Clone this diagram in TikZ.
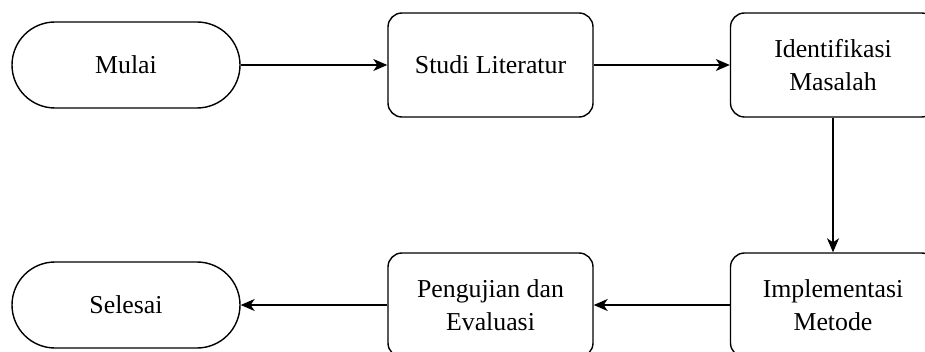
\documentclass[tikz,border=0pt]{standalone}
\usepackage{fontspec}
\setmainfont{Liberation Serif}
\usetikzlibrary{positioning,arrows.meta}

\begin{document}
\begin{tikzpicture}[
  x=1pt, y=1pt,
  box/.style={rectangle, draw, line width=1.4pt, rounded corners=14pt,
    minimum width=205pt, minimum height=104pt, align=center,
    font=\fontsize{25.8}{33}\selectfont},
  term/.style={box, rounded corners=43pt, minimum width=228pt, minimum height=86pt},
  flow/.style={-{Stealth[length=14pt, width=12pt, inset=4pt]}, line width=1.4pt},
]
  \clip (0,0) rectangle (925,351);

  % Top row
  \node[term] (mulai)  at (126,286)   {Mulai};
  \node[box]  (studi)  at (490.5,286) {Studi Literatur};
  \node[box]  (ident)  at (833,286)   {Identifikasi\\Masalah};

  % Bottom row
  \node[box]  (impl)    at (833,46)   {Implementasi\\Metode};
  \node[box]  (uji)     at (490.5,46) {Pengujian dan\\Evaluasi};
  \node[term] (selesai) at (126,46)   {Selesai};

  \draw[flow] (mulai) -- (studi);
  \draw[flow] (studi) -- (ident);
  \draw[flow] (ident) -- (impl);
  \draw[flow] (impl) -- (uji);
  \draw[flow] (uji) -- (selesai);
\end{tikzpicture}
\end{document}
